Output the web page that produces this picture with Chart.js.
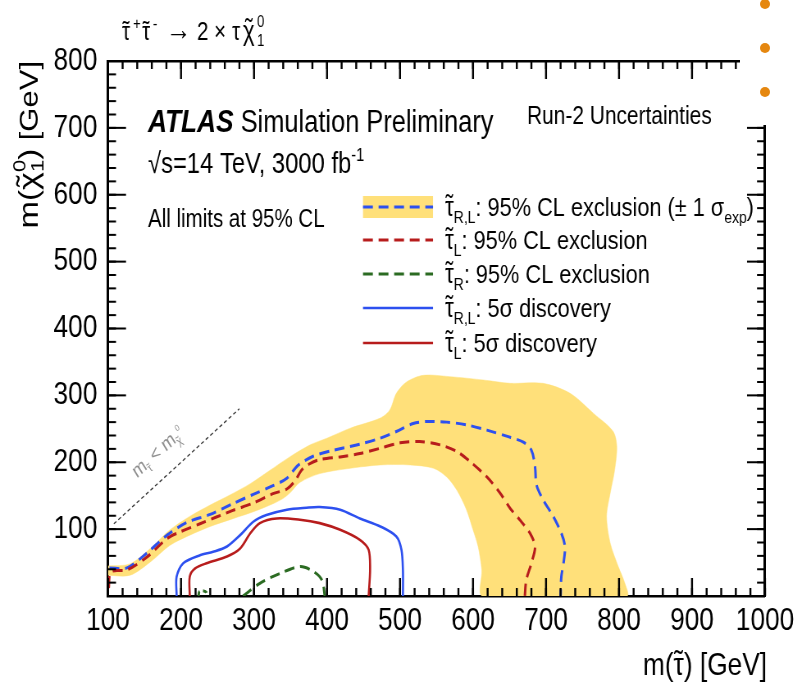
<!DOCTYPE html>
<html>
<head>
<meta charset="utf-8">
<script src="https://cdn.jsdelivr.net/npm/chart.js@4.4.1/dist/chart.umd.min.js"></script>
<style>
html, body { margin: 0; padding: 0; overflow: hidden; background: #fff; width: 797px; height: 688px; }
#wrap { position: absolute; left: 0; top: 0; width: 972px; height: 688px; transform: scaleX(0.82); transform-origin: 0 0; }
#cover { position: absolute; left: 740px; top: 0; width: 57px; height: 125px; background: #fff; }
.dot { position: absolute; left: 760px; width: 10px; height: 10px; border-radius: 50%; background: #e5870f; }
</style>
</head>
<body>
<div id="wrap"><canvas id="c"></canvas></div>
<div id="cover"></div>
<div class="dot" style="top:-1px"></div>
<div class="dot" style="top:43px"></div>
<div class="dot" style="top:87px"></div>
<script>
// values, in GeV: m(stau) on x, m(chi10) on y
const xTicks = [100, 200, 300, 400, 500, 600, 700, 800, 900, 1000];
const yTicks = [100, 200, 300, 400, 500, 600, 700, 800];

// +-1 sigma expected band (closed outline)
const bandX = [100, 130, 158, 185, 212, 240, 267, 295, 322, 349, 377, 400, 432, 473, 486, 495, 509, 532, 568, 614, 651, 696, 733, 765, 792, 797, 794, 788, 783, 788, 799, 808, 811,
               613, 612, 607, 600, 591, 578, 564, 546, 514, 473, 432, 390, 363, 350, 340, 326, 299, 272, 240, 212, 185, 158, 130, 100];
const bandY = [45, 48, 71, 99, 119, 136, 151, 168, 188, 208, 226, 236, 251, 266, 278, 303, 320, 330, 328, 323, 318, 318, 303, 273, 246, 223, 188, 154, 119, 79, 44, 19, 0,
               0, 39, 74, 99, 129, 158, 178, 191, 196, 196, 191, 183, 170, 155, 146, 138, 126, 116, 104, 91, 76, 51, 31, 31];

// stau R,L exclusion (blue dashed)
const exclRLX = [102, 126, 153, 181, 208, 240, 271, 299, 326, 345, 360, 381, 409, 445, 473, 495, 518, 537, 564, 591, 619, 646, 669, 680, 685, 687, 696, 710, 721, 726, 724, 721, 720];
const exclRLY = [42, 42, 64, 91, 110, 122, 138, 152, 165, 176, 195, 209, 218, 227, 236, 246, 258, 261, 260, 256, 248, 239, 230, 218, 193, 166, 144, 119, 94, 74, 49, 29, 0];

// stau L exclusion (red dashed)
const exclLX = [101, 104, 126, 153, 181, 199, 226, 271, 299, 326, 345, 356, 365, 375, 390, 418, 445, 473, 500, 527, 555, 578, 596, 619, 637, 651, 664, 678, 685, 680, 673, 671];
const exclLY = [12, 36, 39, 58, 86, 96, 108, 128, 139, 153, 160, 172, 188, 197, 204, 208, 213, 221, 229, 231, 226, 216, 201, 178, 154, 131, 114, 94, 74, 49, 24, 0];

// stau R exclusion (green dashed), main contour and small island
const exclRX = [285, 308, 336, 363, 381, 393, 397];
const exclRY = [0, 19, 34, 44, 37, 24, 0];
const exclRIsleX = [224, 225, 230, 235, 234];
const exclRIsleY = [0, 6, 8, 5, 0];

// 5 sigma discovery
const discRLX = [194, 194, 203, 226, 244, 263, 281, 299, 317, 345, 372, 390, 418, 445, 473, 495, 502, 504, 504];
const discRLY = [0, 29, 49, 61, 66, 74, 91, 111, 121, 129, 132, 133, 129, 116, 104, 89, 69, 39, 0];
const discLX = [212, 212, 219, 235, 263, 281, 295, 308, 331, 363, 390, 418, 445, 457, 459, 457];
const discLY = [0, 29, 41, 49, 59, 71, 94, 109, 116, 114, 109, 99, 84, 69, 39, 0];

// kinematic limit m(stau) = m(chi)
const diagX = [108, 280];
const diagY = [108, 280];

const K = 0.82; // horizontal squeeze of the picture
const FAM = '"Liberation Sans", Arial, Helvetica, sans-serif';
const BLUE = '#2d50ef', RED = '#b71c1c', GREEN = '#2b6b22', YELLOW = '#ffe07a';

const pts = (xs, ys) => xs.map((x, i) => ({ x: x, y: ys[i] }));

function line(label, xs, ys, color, width, dash) {
    return {
        label: label, data: pts(xs, ys), showLine: true, fill: false,
        borderColor: color, borderWidth: width, borderDash: dash || [],
        pointRadius: 0, tension: 0.3
    };
}

const datasets = [
    line('discL', discLX, discLY, RED, 2.6),
    line('discRL', discRLX, discRLY, BLUE, 2.6),
    line('exclR', exclRX, exclRY, GREEN, 3, [12, 7]),
    line('exclRIsle', exclRIsleX, exclRIsleY, GREEN, 3, [5, 4]),
    line('exclL', exclLX, exclLY, RED, 3, [12, 7]),
    line('exclRL', exclRLX, exclRLY, BLUE, 3, [12, 7]),
    line('diag', diagX, diagY, '#333', 1.3, [4, 3]),
    {
        label: 'band', data: pts(bandX, bandY), showLine: true, fill: 'shape',
        backgroundColor: YELLOW, borderColor: YELLOW, borderWidth: 0.5,
        pointRadius: 0, tension: 0.3, order: 10
    }
];

// text runs with sub/superscripts; tl puts a tilde over a single glyph
function rich(ctx, x, y, parts, dry) {
    for (const p of parts) {
        if (p.at !== undefined) x = p.at / K;
        if (p.sup !== undefined || p.sub !== undefined) {
            ctx.font = p.s + 'px ' + FAM;
            let w = 0;
            if (p.sup) { if (!dry) ctx.fillText(p.sup, x, y + p.up); w = ctx.measureText(p.sup).width; }
            if (p.sub) { if (!dry) ctx.fillText(p.sub, x, y + p.down); w = Math.max(w, ctx.measureText(p.sub).width); }
            x += w;
        } else {
            ctx.font = (p.st || '') + ' ' + p.s + 'px ' + FAM;
            const w = ctx.measureText(p.t).width;
            const yy = y + (p.dy || 0);
            if (!dry) {
                ctx.fillText(p.t, x, yy);
                if (p.tl) {
                    const tw = ctx.measureText('˜').width;
                    ctx.fillText('˜', x + (w - tw) / 2, yy - p.s * 0.06);
                }
            }
            x += w;
        }
    }
    return x;
}

// inward tick marks at the tick values of each axis
const tickSpec = [['x', 18], ['xMinor', 8], ['xTop', 18], ['xTopMinor', 8],
                  ['y', 18 / K], ['yMinor', 8 / K], ['yRight', 18 / K], ['yRightMinor', 8 / K]];

function drawTicks(chart) {
    const ctx = chart.ctx, a = chart.chartArea;
    ctx.save();
    ctx.fillStyle = '#000';
    for (const [id, len] of tickSpec) {
        const s = chart.scales[id];
        const vals = (s.ticks || []).map((t) => t.value);
        for (const v of vals) {
            const p = s.getPixelForValue(v);
            if (s.isHorizontal()) {
                const y0 = s.position === 'bottom' ? a.bottom - len : a.top;
                ctx.fillRect(p - 1.2, y0, 2.4, len);
            } else {
                const x0 = s.position === 'left' ? a.left : a.right - len;
                ctx.fillRect(x0, p - 1, len, 2);
            }
        }
    }
    ctx.restore();
}

const annotations = {
    id: 'annotations',
    afterDraw(chart) {
        const ctx = chart.ctx;
        const sx = chart.scales.x, sy = chart.scales.y;
        ctx.save();
        ctx.fillStyle = '#000';
        ctx.textAlign = 'left';
        ctx.textBaseline = 'alphabetic';

        rich(ctx, 0, 40, [
            { t: 'τ', s: 25, tl: true, at: 122 }, { sup: '+', s: 16, up: -11, at: 133 },
            { t: 'τ', s: 25, tl: true, at: 142 }, { sup: '-', s: 16, up: -11, at: 153 },
            { t: '→', s: 31, at: 166 }, { t: '2', s: 25, at: 197 }, { t: '×', s: 25, at: 214 },
            { t: 'τ', s: 25, at: 232 }, { t: 'χ', s: 27, tl: true, at: 243 },
            { sup: '0', sub: '1', s: 16, up: -13, down: 6, at: 257 }
        ]);
        rich(ctx, 148 / K, 132, [{ t: 'ATLAS', s: 32, st: 'italic bold' }, { t: ' Simulation Preliminary', s: 31 }]);
        rich(ctx, 527 / K, 124, [{ t: 'Run-2 Uncertainties', s: 25.5 }]);
        rich(ctx, 148 / K, 173, [{ t: '√s=14 TeV, 3000 fb', s: 29 }, { sup: '-1', s: 18, up: -12 }]);
        rich(ctx, 148 / K, 227, [{ t: 'All limits at 95% CL', s: 25 }]);

        // axis titles
        const xt = [{ t: 'm(', s: 32 }, { t: 'τ', s: 32, tl: true }, { t: ') [GeV]', s: 32 }];
        rich(ctx, 767 / K - rich(ctx, 0, 0, xt, true), 675, xt);
        const yt = [{ t: 'm(', s: 33 }, { t: 'χ', s: 34, tl: true }, { sup: '0', sub: '1', s: 22, up: -15, down: 7 },
                    { t: ')', s: 33 }, { t: ' [GeV]', s: 31 }];
        ctx.save();
        ctx.translate(38 / K, 61);
        ctx.rotate(-Math.PI / 2);
        rich(ctx, -rich(ctx, 0, 0, yt, true), 0, yt);
        ctx.restore();

        // legend
        const ds = chart.data.datasets;
        const entries = [
            { d: ds[5], c: 207, band: true, sub: 'R,L', txt: ': 95% CL exclusion (± 1 σ', tail: true },
            { d: ds[4], c: 240, sub: 'L', txt: ': 95% CL exclusion' },
            { d: ds[2], c: 274, sub: 'R', txt: ': 95% CL exclusion' },
            { d: ds[1], c: 308, sub: 'R,L', txt: ': 5σ discovery' },
            { d: ds[0], c: 343, sub: 'L', txt: ': 5σ discovery' }
        ];
        const x0 = 363 / K, x1 = 433 / K;
        for (const e of entries) {
            if (e.band) {
                ctx.fillStyle = YELLOW;
                ctx.fillRect(x0, e.c - 11, x1 - x0, 22);
            }
            ctx.beginPath();
            ctx.strokeStyle = e.d.borderColor;
            ctx.lineWidth = e.d.borderWidth;
            ctx.setLineDash(e.d.borderDash);
            ctx.moveTo(x0, e.c);
            ctx.lineTo(x1, e.c);
            ctx.stroke();
            ctx.setLineDash([]);
            ctx.fillStyle = '#000';
            const parts = [{ t: 'τ', s: 27, tl: true }, { sub: e.sub, s: 17, down: 7 }, { t: e.txt, s: 26.5 }];
            if (e.tail) parts.push({ sub: 'exp', s: 17, down: 7 }, { t: ')', s: 26.5 });
            rich(ctx, 445 / K, e.c + 9, parts);
        }

        // label along the kinematic limit
        const ax = sx.getPixelForValue(110), ay = sy.getPixelForValue(110);
        const bx = sx.getPixelForValue(280), by = sy.getPixelForValue(280);
        ctx.translate(sx.getPixelForValue(172), sy.getPixelForValue(208));
        ctx.rotate(Math.atan2(by - ay, bx - ax));
        ctx.fillStyle = '#8f8f8f';
        const dl = [
            { t: 'm', s: 20 }, { t: 'τ', s: 12, dy: 5, tl: true }, { t: ' < m', s: 20 },
            { t: 'χ', s: 12, dy: 5, tl: true }, { sup: '0', s: 9, up: -8 }
        ];
        rich(ctx, -rich(ctx, 0, 0, dl, true) / 2, 0, dl);
        ctx.restore();

        drawTicks(chart);
    }
};

const tickFont = { family: FAM, size: 32 };
const flatGrid = () => ({ display: false, tickLength: 0 });
const blankFit = (s) => { s.paddingLeft = 0; s.paddingRight = 0; s.paddingTop = 0; s.paddingBottom = 0; };

function helperAxis(pos, min, max, step, weight, border) {
    return {
        type: 'linear', position: pos, weight: weight, min: min, max: max,
        ticks: { stepSize: step, display: false },
        grid: flatGrid(),
        border: border ? { display: true, color: '#000', width: border } : { display: false },
        afterFit: (s) => { blankFit(s); if (s.isHorizontal()) s.height = 0; else s.width = 0; }
    };
}

new Chart(document.getElementById('c'), {
    type: 'scatter',
    data: { datasets: datasets },
    options: {
        responsive: true,
        maintainAspectRatio: false,
        animation: false,
        events: [],
        layout: { padding: { left: 0, right: 972 - 765 / K, top: 61, bottom: 0 } },
        plugins: { legend: { display: false }, tooltip: { enabled: false } },
        scales: {
            x: {
                type: 'linear', position: 'bottom', min: 100, max: 1000,
                ticks: {
                    stepSize: 100, autoSkip: false, maxRotation: 0, color: '#000', font: tickFont, padding: 6,
                    callback: (v) => xTicks.includes(v) ? String(v) : ''
                },
                grid: flatGrid(),
                border: { display: true, color: '#000', width: 2.5 },
                afterFit: (s) => { blankFit(s); s.height = 92; }
            },
            xMinor: helperAxis('bottom', 100, 1000, 20, -1, 0),
            xTop: helperAxis('top', 100, 1000, 100, 0, 2.5),
            xTopMinor: helperAxis('top', 100, 1000, 20, -1, 0),
            y: {
                type: 'linear', position: 'left', min: 0, max: 800,
                ticks: {
                    stepSize: 100, color: '#000', font: tickFont, padding: 13,
                    callback: (v) => yTicks.includes(v) ? String(v) : ''
                },
                grid: flatGrid(),
                border: { display: true, color: '#000', width: 3 },
                afterFit: (s) => { blankFit(s); s.width = 108 / K; }
            },
            yMinor: helperAxis('left', 0, 800, 20, -1, 0),
            yRight: helperAxis('right', 0, 800, 100, 0, 3),
            yRightMinor: helperAxis('right', 0, 800, 20, -1, 0)
        }
    },
    plugins: [annotations]
});
</script>
</body>
</html>
